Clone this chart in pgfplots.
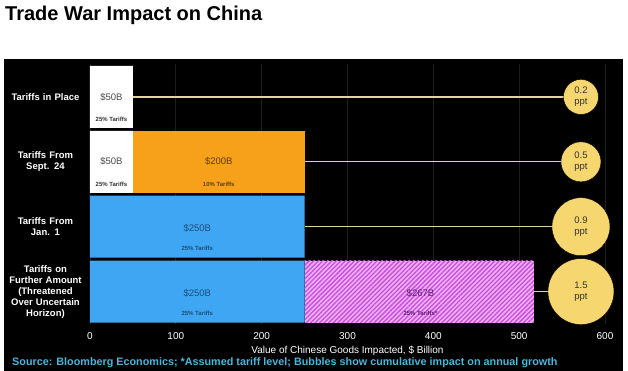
\documentclass[border=0pt]{standalone}
\usepackage{fontspec}
\setmainfont{Liberation Sans}
\usepackage{pgfplots}
\usepackage{pgfplotstable}
\pgfplotsset{compat=1.18}
\usetikzlibrary{patterns.meta}

\definecolor{barorange}{HTML}{F7A11A}
\definecolor{barblue}{HTML}{3EA6F2}
\definecolor{magL}{HTML}{F0AEF7}
\definecolor{magD}{HTML}{C64ED8}
\definecolor{bubble}{HTML}{F6D66E}
\definecolor{linecol}{HTML}{E2D3A0}
\definecolor{srcblue}{HTML}{4DB5DA}
\definecolor{gridc}{HTML}{1E1E1E}
\definecolor{txtgray}{HTML}{4A4A4A}
\definecolor{txtorange}{HTML}{5E3C08}
\definecolor{txtblue}{HTML}{1E4D7A}
\definecolor{txtmag}{HTML}{5E1F6E}

\tikzset{val/.style={font=\fontsize{9.5}{11}\selectfont, inner sep=0pt}, tar/.style={font=\bfseries\fontsize{6}{7}\selectfont, inner sep=0pt}}

\pgfplotstableread{
y white orange blue magenta
4 50 0 0 0
3 50 200 0 0
2 0 0 250 0
1 0 0 250 267
}\bars

\begin{document}
\begin{tikzpicture}
\useasboundingbox (-90pt,-47pt) rectangle (538pt,324pt);
\fill[white] (-90pt,-47pt) rectangle (538pt,324pt);
\fill[black] (-86pt,-47pt) rectangle (533pt,265pt);
\node[anchor=base west, inner sep=0pt, font=\bfseries\fontsize{20}{24}\selectfont] at (-85pt,303pt) {Trade War Impact on China};

\begin{axis}[
  scale only axis, width=515pt, height=259.5pt,
  xmin=0, xmax=600, ymin=0.5, ymax=4.5,
  xbar stacked, bar width=62pt,
  xtick={0,100,...,600}, ytick={1,2,3,4},
  yticklabels={{Tariffs on\\Further Amount\\(Threatened\\Over Uncertain\\Horizon)},{Tariffs From\\Jan. 1},{Tariffs From\\Sept. 24},{Tariffs in Place}},
  axis line style={draw=none}, major tick length=0pt,
  xmajorgrids, grid style={color=gridc, line width=0.8pt},
  /pgf/number format/assume math mode=true,
  xticklabel style={text=white, font=\fontsize{10}{12}\selectfont, yshift=-5pt},
  yticklabel style={text=white, font=\bfseries\fontsize{9.5}{11}\selectfont, align=center, text width=82pt},
  xlabel={Value of Chinese Goods Impacted, \$ Billion},
  xlabel style={text=white, font=\fontsize{10}{12}\selectfont, yshift=0pt},
  clip=false,
]
\addplot[draw=none, fill=white] table[x=white, y=y]{\bars};
\addplot[draw=none, fill=barorange] table[x=orange, y=y]{\bars};
\addplot[draw=none, fill=barblue] table[x=blue, y=y]{\bars};
\addplot[draw=none, fill=magL, postaction={pattern={Lines[angle=45,distance=3.2pt,line width=1.3pt]}, pattern color=magD}] table[x=magenta, y=y]{\bars};
\end{axis}

\begin{axis}[
  scale only axis, width=515pt, height=259.5pt,
  xmin=0, xmax=600, ymin=0.5, ymax=4.5,
  hide axis, clip=false,
  every node near coord/.append style={anchor=center, align=center, text=black!80, font=\fontsize{9.5}{11}\selectfont},
]
\addplot[linecol, line width=1.3pt] coordinates {(50,4) (572,4)};
\addplot[linecol, line width=1.3pt] coordinates {(250,3) (572,3)};
\addplot[linecol, line width=1.3pt] coordinates {(250,2) (572,2)};
\addplot[linecol, line width=1.3pt] coordinates {(517,1) (572,1)};
\addplot[only marks, mark=*, mark size=17.5pt, mark options={fill=bubble, draw=none}, point meta=explicit symbolic, nodes near coords={\pgfplotspointmeta\\ppt}] coordinates {(572,4) [0.2]};
\addplot[only marks, mark=*, mark size=20pt, mark options={fill=bubble, draw=none}, point meta=explicit symbolic, nodes near coords={\pgfplotspointmeta\\ppt}] coordinates {(572,3) [0.5]};
\addplot[only marks, mark=*, mark size=29pt, mark options={fill=bubble, draw=none}, point meta=explicit symbolic, nodes near coords={\pgfplotspointmeta\\ppt}] coordinates {(572,2) [0.9]};
\addplot[only marks, mark=*, mark size=33pt, mark options={fill=bubble, draw=none}, point meta=explicit symbolic, nodes near coords={\pgfplotspointmeta\\ppt}] coordinates {(572,1) [1.5]};

\node[val, text=txtgray] at (axis cs:25,4) {\$50B};
\node[tar, text=black!80] at (axis cs:25,3.66) {25\% Tariffs};
\node[val, text=txtgray] at (axis cs:25,3) {\$50B};
\node[tar, text=black!80] at (axis cs:25,2.65) {25\% Tariffs};
\node[val, text=txtorange] at (axis cs:150,3) {\$200B};
\node[tar, text=txtorange] at (axis cs:150,2.65) {10\% Tariffs};
\node[val, text=txtblue] at (axis cs:125,1.98) {\$250B};
\node[tar, text=txtblue] at (axis cs:125,1.66) {25\% Tariffs};
\node[val, text=txtblue] at (axis cs:125,0.98) {\$250B};
\node[tar, text=txtblue] at (axis cs:125,0.66) {25\% Tariffs};
\node[val, text=txtmag] at (axis cs:385,0.98) {\$267B};
\node[tar, text=txtmag] at (axis cs:385,0.66) {25\% Tariffs*};
\end{axis}

\node[anchor=base west, inner sep=0pt, text=srcblue, font=\bfseries\fontsize{10.8}{13}\selectfont] at (-78pt,-42pt) {Source: Bloomberg Economics; *Assumed tariff level; Bubbles show cumulative impact on annual growth};
\end{tikzpicture}
\end{document}
